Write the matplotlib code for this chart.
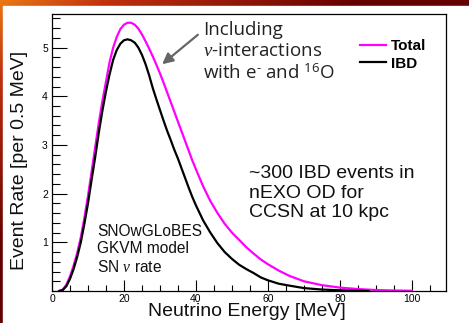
import numpy as np
import matplotlib
matplotlib.use("Agg")
import matplotlib.pyplot as plt
from matplotlib.patches import Rectangle
from matplotlib.colors import LinearSegmentedColormap

plt.rcParams['mathtext.fontset'] = 'custom'
plt.rcParams['mathtext.rm'] = 'Open Sans'
plt.rcParams['mathtext.it'] = 'Liberation Serif:italic'
plt.rcParams['font.family'] = ['Liberation Sans', 'DejaVu Sans']

# ---- data ----
energy_total = [2, 3, 4, 5, 6, 7, 8, 9, 10, 11, 12, 13, 14, 15, 16, 17, 18, 19, 20, 21, 22,
                23, 24, 25, 26, 27, 28, 29, 30, 31, 32, 33, 34, 35, 36, 37, 38, 39, 40,
                42, 44, 46, 48, 50, 52, 54, 56, 58, 60, 63, 66, 70, 75, 80, 85, 90, 95, 100]
rate_total = [0.0, 0.03, 0.13, 0.30, 0.52, 0.78, 1.10, 1.50, 1.95, 2.45, 2.95, 3.45, 3.90, 4.30,
              4.70, 5.00, 5.22, 5.38, 5.47, 5.51, 5.51, 5.47, 5.39, 5.27, 5.13, 4.98, 4.82, 4.65,
              4.47, 4.28, 4.08, 3.88, 3.68, 3.48, 3.28, 3.08, 2.88, 2.68, 2.50, 2.15, 1.85, 1.60,
              1.38, 1.20, 1.05, 0.90, 0.77, 0.65, 0.55, 0.42, 0.31, 0.20, 0.12, 0.07, 0.04, 0.02,
              0.01, 0.005]
energy_ibd = [2, 3, 4, 5, 6, 7, 8, 9, 10, 11, 12, 13, 14, 15, 16, 17, 18, 19, 20, 21, 22,
              23, 24, 25, 26, 27, 28, 29, 30, 31, 32, 33, 34, 35, 36, 37, 38, 39, 40,
              42, 44, 46, 48, 50, 52, 54, 56, 58, 60, 63, 66, 70, 75, 80, 85, 88]
rate_ibd = [0.0, 0.02, 0.10, 0.25, 0.45, 0.70, 1.00, 1.38, 1.80, 2.28, 2.75, 3.25, 3.70, 4.10,
            4.45, 4.75, 4.95, 5.08, 5.15, 5.17, 5.15, 5.10, 5.00, 4.85, 4.66, 4.43, 4.17, 3.94,
            3.72, 3.50, 3.29, 3.10, 2.90, 2.72, 2.52, 2.32, 2.12, 1.93, 1.76, 1.45, 1.20, 0.98,
            0.80, 0.66, 0.54, 0.45, 0.37, 0.28, 0.22, 0.15, 0.11, 0.06, 0.03, 0.015, 0.005, 0.0]
series_labels = ["Total", "IBD"]
x_ticks = [0, 20, 40, 60, 80, 100]
y_ticks = [1, 2, 3, 4, 5]

W, H = 469, 323
fig = plt.figure(figsize=(W / 100, H / 100), dpi=100)

def fx(x):
    return x / W

def fy(y):
    return 1 - y / H

# background gradient border
bg = fig.add_axes([0, 0, 1, 1], zorder=-10)
bg.axis('off')
yy, xx = np.mgrid[0:H, 0:W]
t = np.clip(xx / W * 1.3 + yy / H * 1.3, 0, 1)
cmap = LinearSegmentedColormap.from_list('bord', [(0, '#eb7814'), (0.3, '#c0300f'), (1, '#640000')])
bg.imshow(t, cmap=cmap, extent=[0, W, H, 0], aspect='auto', vmin=0, vmax=1)
bg.add_patch(Rectangle((3, 6), W, H, color='white'))
bg.set_xlim(0, W)
bg.set_ylim(H, 0)

ax = fig.add_axes([fx(52), fy(291), fx(446) - fx(52), fy(14) - fy(291)])
ax.plot(energy_total, rate_total, color='#ff00ff', lw=1.6, label=series_labels[0])
ax.plot(energy_ibd, rate_ibd, color='black', lw=1.6, label=series_labels[1])
ax.set_xlim(0, 109.5)
ax.set_ylim(0, 5.69)
ax.set_xticks(x_ticks)
ax.set_yticks(y_ticks)
ax.set_xticks(np.arange(0, 110, 5), minor=True)
ax.set_yticks(np.arange(0, 5.7, 0.2), minor=True)
ax.tick_params(axis='x', which='major', direction='in', length=8, width=0.8, pad=2, labelsize=7.5)
ax.tick_params(axis='x', which='minor', direction='in', length=4, width=0.8)
ax.tick_params(axis='y', which='major', direction='in', length=11, width=0.8, pad=3, labelsize=7.5)
ax.tick_params(axis='y', which='minor', direction='in', length=5.5, width=0.8)
for s in ax.spines.values():
    s.set_linewidth(0.9)

fig.text(fx(247), fy(312), "Neutrino Energy [MeV]", ha='center', va='center', fontsize=14, color='#111')
fig.text(fx(20), fy(160), "Event Rate [per 0.5 MeV]", ha='center', va='center', rotation=90,
         fontsize=14, color='#111')

leg = ax.legend(loc='upper left', bbox_to_anchor=(fx(360), fy(39)), bbox_transform=fig.transFigure,
                frameon=False, handlelength=1.7, handletextpad=0.35, labelspacing=0.25,
                borderaxespad=0, borderpad=0,
                prop={'family': 'Liberation Sans', 'weight': 'bold', 'size': 11})

fig.text(fx(203), fy(52), "Including\n$\\nu$-interactions\nwith e$^{\\text{-}}$ and $^{16}$O",
         ha='left', va='center', fontsize=13.5, family='Open Sans', color='#222', linespacing=1.2)
fig.text(fx(249), fy(193), "~300 IBD events in\nnEXO OD for\nCCSN at 10 kpc",
         ha='left', va='center', fontsize=14, color='#111', linespacing=1.2)
fig.text(fx(97), fy(249), "SNOwGLoBES\nGKVM model\nSN $\\nu$ rate",
         ha='left', va='center', fontsize=11.2, color='#111', linespacing=1.2)

ax.annotate("", xy=(fx(160), fy(66)), xytext=(fx(200), fy(33)), xycoords='figure fraction',
            textcoords='figure fraction',
            arrowprops=dict(arrowstyle='-|>', color='#666', lw=1.6, mutation_scale=16))

fig.savefig("out.png", dpi=100)
